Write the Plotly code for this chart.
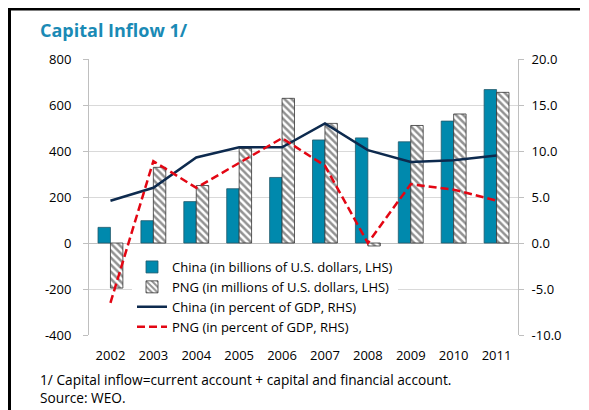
import plotly.graph_objects as go

years = ["2002", "2003", "2004", "2005", "2006", "2007", "2008", "2009", "2010", "2011"]
china_usd_bn = [68, 97, 180, 236, 285, 448, 457, 440, 530, 667]
png_usd_mn = [-196, 329, 250, 411, 629, 520, -13, 511, 561, 655]
china_pct_gdp = [4.6, 6.0, 9.3, 10.4, 10.4, 13.0, 10.1, 8.8, 9.0, 9.5]
png_pct_gdp = [-6.5, 8.9, 6.0, 8.7, 11.4, 8.4, 0.0, 6.4, 5.8, 4.6]
lhs_ticks = [-400, -200, 0, 200, 400, 600, 800]
lhs_labels = ["-400", "-200", "0", "200", "400", "600", "800"]
rhs_ticks = [-10, -5, 0, 5, 10, 15, 20]
rhs_labels = ["-10.0", "-5.0", "0.0", "5.0", "10.0", "15.0", "20.0"]

FONT = "Open Sans"
W, H = 573, 402          # page body adds an 8px margin around the figure
ML, MR, MT, MB = 81, 63, 51, 75
PW, PH = W - ML - MR, H - MT - MB

def px(x):
    return (x - ML) / PW

def py(y):
    return (H - MB - y) / PH

fig = go.Figure()
fig.add_trace(go.Bar(
    x=years, y=china_usd_bn, name="China (in billions of U.S. dollars, LHS)",
    marker=dict(color="#0089ad", line=dict(color="#22596b", width=0.8)),
))
fig.add_trace(go.Bar(
    x=years, y=png_usd_mn, name="PNG (in millions of U.S. dollars, LHS)",
    marker=dict(color="white", line=dict(color="#333333", width=0.8),
                pattern=dict(shape="\\", fgcolor="#262626", bgcolor="white", size=5, solidity=0.5)),
))
fig.add_trace(go.Scatter(
    x=years, y=china_pct_gdp, name="China (in percent of GDP, RHS)", yaxis="y2",
    mode="lines", line=dict(color="#0d2a4e", width=2.5),
))
fig.add_trace(go.Scatter(
    x=years, y=png_pct_gdp, name="PNG (in percent of GDP, RHS)", yaxis="y2",
    mode="lines", line=dict(color="#e30613", width=2.5, dash="8px,4px"),
))

fig.update_layout(
    width=W, height=H,
    margin=dict(l=ML, r=MR, t=MT, b=MB),
    paper_bgcolor="white", plot_bgcolor="white",
    font=dict(family=FONT, size=13, color="#000000"),
    barmode="group", bargap=0.42, bargroupgap=0,
    showlegend=True,
    legend=dict(x=px(124), y=py(244), xanchor="left", yanchor="top",
                bgcolor="white", borderwidth=0, tracegroupgap=0,
                font=dict(family=FONT, size=13, color="#000000"),
                itemwidth=30),
    xaxis=dict(type="category", showgrid=False, showline=False, ticks="",
               ticklabelstandoff=11, tickfont=dict(size=13), automargin=False),
    xaxis2=dict(type="category", categoryarray=years, categoryorder="array",
                range=[-0.5, len(years) - 0.5], overlaying="x", anchor="free",
                position=1 / 3, side="bottom", showgrid=False, showline=False,
                ticks="outside", tickson="boundaries", ticklen=5, tickcolor="#bfbfbf",
                showticklabels=False, automargin=False),
    yaxis=dict(range=[-400, 800], tickvals=lhs_ticks, ticktext=lhs_labels,
               showgrid=True, gridcolor="#d9d9d9", gridwidth=1,
               zeroline=True, zerolinecolor="#bfbfbf", zerolinewidth=1,
               showline=True, linecolor="#bfbfbf", ticks="outside", ticklen=5, tickcolor="#bfbfbf",
               ticklabelstandoff=9, tickfont=dict(size=13), automargin=False),
    yaxis2=dict(range=[-10, 20], tickvals=rhs_ticks, ticktext=rhs_labels,
                overlaying="y", side="right",
                showgrid=False, zeroline=False, showline=True, linecolor="#bfbfbf",
                ticks="outside", ticklen=5, tickcolor="#bfbfbf",
                ticklabelstandoff=5, tickfont=dict(size=13), automargin=False),
    annotations=[
        dict(text="<b>Capital Inflow 1/</b>", xref="paper", yref="paper", x=px(30), y=py(22),
             xanchor="left", yanchor="middle", showarrow=False,
             font=dict(family=FONT, size=18, color="#1a8ab5")),
        dict(text="1/ Capital inflow=current account + capital and financial account.<br>Source: WEO.",
             xref="paper", yref="paper", x=px(30), y=py(360), xanchor="left", yanchor="top",
             showarrow=False, align="left", font=dict(family=FONT, size=13.7, color="#000000")),
    ],
)
# frame lines (top and left)
fig.add_shape(type="line", xref="paper", yref="paper",
              x0=px(0), x1=px(W - 1), y0=py(1), y1=py(1),
              line=dict(color="black", width=3))
fig.add_shape(type="line", xref="paper", yref="paper",
              x0=px(1.5), x1=px(1.5), y0=py(0), y1=py(H),
              line=dict(color="black", width=3))

fig.write_html("out.html")
